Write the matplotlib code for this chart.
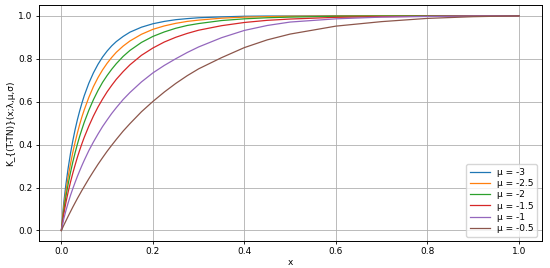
import matplotlib
matplotlib.use("Agg")
import matplotlib.pyplot as plt

x = [0, 0.005, 0.01, 0.015, 0.02, 0.025, 0.03, 0.035, 0.04, 0.045, 0.05,
     0.06, 0.07, 0.08, 0.09, 0.1, 0.11, 0.12, 0.135, 0.15, 0.175,
     0.2, 0.225, 0.25, 0.275, 0.3, 0.35, 0.4, 0.45, 0.5, 0.6, 0.7, 0.8, 0.9, 1.0]

mu_labels = ["μ = -3", "μ = -2.5", "μ = -2", "μ = -1.5", "μ = -1", "μ = -0.5"]

k_mu_m3 = [0, 0.125, 0.216, 0.293, 0.360, 0.418, 0.470, 0.516, 0.557, 0.594, 0.628,
           0.686, 0.734, 0.774, 0.808, 0.836, 0.860, 0.880, 0.904, 0.924, 0.947,
           0.963, 0.974, 0.982, 0.987, 0.991, 0.995, 0.998, 0.999, 0.999, 1.0, 1.0, 1.0, 1.0, 1.0]
k_mu_m25 = [0, 0.106, 0.184, 0.252, 0.311, 0.364, 0.411, 0.454, 0.494, 0.530, 0.562,
            0.620, 0.670, 0.712, 0.748, 0.779, 0.806, 0.830, 0.859, 0.883, 0.914,
            0.937, 0.953, 0.965, 0.974, 0.980, 0.989, 0.994, 0.996, 0.998, 0.999, 1.0, 1.0, 1.0, 1.0]
k_mu_m2 = [0, 0.090, 0.159, 0.218, 0.271, 0.319, 0.362, 0.402, 0.439, 0.472, 0.504,
           0.560, 0.609, 0.652, 0.690, 0.722, 0.751, 0.777, 0.811, 0.839, 0.876,
           0.904, 0.925, 0.942, 0.955, 0.964, 0.978, 0.986, 0.991, 0.994, 0.998, 0.999, 1.0, 1.0, 1.0]
k_mu_m15 = [0, 0.074, 0.131, 0.181, 0.226, 0.267, 0.305, 0.341, 0.374, 0.405, 0.434,
            0.486, 0.533, 0.575, 0.612, 0.646, 0.676, 0.704, 0.740, 0.772, 0.816,
            0.850, 0.878, 0.900, 0.918, 0.933, 0.954, 0.969, 0.979, 0.985, 0.993, 0.996, 0.998, 0.999, 1.0]
k_mu_m1 = [0, 0.052, 0.093, 0.130, 0.164, 0.195, 0.224, 0.252, 0.278, 0.303, 0.327,
           0.372, 0.412, 0.449, 0.484, 0.515, 0.545, 0.572, 0.610, 0.643, 0.692,
           0.734, 0.769, 0.800, 0.829, 0.855, 0.898, 0.932, 0.955, 0.971, 0.986, 0.994, 0.997, 0.999, 1.0]
k_mu_m05 = [0, 0.023, 0.045, 0.067, 0.088, 0.109, 0.129, 0.149, 0.168, 0.187, 0.205,
            0.241, 0.275, 0.308, 0.339, 0.369, 0.397, 0.424, 0.463, 0.498, 0.553,
            0.601, 0.645, 0.685, 0.721, 0.753, 0.805, 0.852, 0.888, 0.915, 0.952, 0.973, 0.988, 0.996, 1.0]

curves = [k_mu_m3, k_mu_m25, k_mu_m2, k_mu_m15, k_mu_m1, k_mu_m05]

plt.rcParams["font.size"] = 6.5

fig = plt.figure(figsize=(5.5, 2.68), dpi=100)
ax = fig.add_axes([0.07, 0.1, 0.915, 0.881])

for y, lab in zip(curves, mu_labels):
    ax.plot(x, y, label=lab, linewidth=0.9)

ax.set_xlabel("x", labelpad=1)
ax.set_ylabel("K_{(T-TN)}(x;λ,μ,σ)", labelpad=2)
ax.grid(True, linewidth=0.6)
ax.tick_params(length=2.5, width=0.6, pad=2)
for s in ax.spines.values():
    s.set_linewidth(0.7)
ax.legend(loc="lower right", fontsize=6.5, handlelength=2.2, labelspacing=0.25,
          borderpad=0.4)

fig.savefig("out.png", dpi=100)
